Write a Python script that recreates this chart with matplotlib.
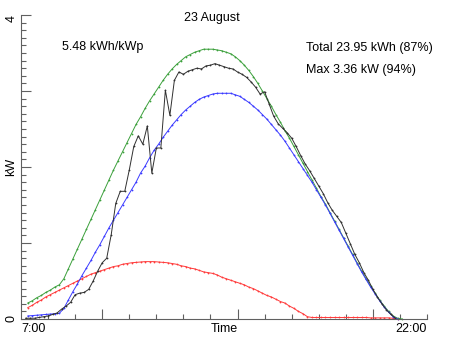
import numpy as np
import matplotlib
matplotlib.use("Agg")
import matplotlib.pyplot as plt
from matplotlib.ticker import FixedLocator, AutoMinorLocator

plt.rcParams['font.family'] = ['Liberation Sans', 'DejaVu Sans']
plt.rcParams['ytick.minor.visible'] = True
plt.rcParams['xtick.minor.visible'] = True

# Measured output, 10-minute samples starting 07:10 (kW)
measured_kw = [
    0.01, 0.01, 0.01, 0.02, 0.03, 0.04, 0.06, 0.08, 0.13, 0.17,
    0.22, 0.32, 0.34, 0.35, 0.39, 0.50, 0.63, 0.74, 0.80, 1.11,
    1.52, 1.68, 1.68, 1.96, 2.27, 2.41, 2.30, 2.54, 1.92, 2.25,
    2.25, 3.01, 2.68, 3.14, 3.25, 3.22, 3.26, 3.28, 3.30, 3.29,
    3.33, 3.34, 3.36, 3.34, 3.32, 3.30, 3.29, 3.25, 3.22, 3.18,
    3.12, 3.05, 2.96, 2.99, 2.83, 2.67, 2.57, 2.51, 2.45, 2.38,
    2.27, 2.15, 2.04, 1.95, 1.85, 1.75, 1.65, 1.53, 1.43, 1.35,
    1.27, 1.13, 0.99, 0.85, 0.74, 0.61, 0.51, 0.39, 0.29, 0.20,
    0.12, 0.06, 0.01,
]

# Clear-sky total, 10-minute samples starting 07:15 (kW)
clear_total_kw = [
    0.21, 0.24, 0.28, 0.31, 0.35, 0.38, 0.42, 0.45, 0.53, 0.66,
    0.79, 0.92, 1.05, 1.18, 1.31, 1.44, 1.57, 1.70, 1.83, 1.96,
    2.08, 2.20, 2.32, 2.44, 2.56, 2.66, 2.77, 2.87, 2.96, 3.05,
    3.14, 3.22, 3.29, 3.35, 3.40, 3.45, 3.48, 3.51, 3.53, 3.55,
    3.55, 3.55, 3.54, 3.53, 3.51, 3.49, 3.45, 3.40, 3.34, 3.27,
    3.19, 3.10, 3.00, 2.90, 2.80, 2.69, 2.59, 2.48, 2.38, 2.27,
    2.16, 2.05, 1.94, 1.83, 1.72, 1.61, 1.51, 1.40, 1.29, 1.18,
    1.07, 0.96, 0.85, 0.74, 0.63, 0.53, 0.43, 0.34, 0.25, 0.17,
    0.10, 0.04, 0.01, 0.00,
]

# Direct component, 10-minute samples starting 07:15 (kW)
direct_kw = [
    0.04, 0.045, 0.05, 0.055, 0.06, 0.065, 0.07, 0.075, 0.14, 0.25,
    0.36, 0.46, 0.57, 0.67, 0.77, 0.88, 0.98, 1.09, 1.20, 1.30,
    1.40, 1.50, 1.60, 1.70, 1.80, 1.92, 2.01, 2.12, 2.22, 2.30,
    2.39, 2.47, 2.55, 2.62, 2.69, 2.75, 2.80, 2.85, 2.89, 2.92,
    2.94, 2.96, 2.97, 2.97, 2.97, 2.97, 2.95, 2.93, 2.89, 2.85,
    2.80, 2.75, 2.69, 2.63, 2.56, 2.49, 2.42, 2.34, 2.25, 2.16,
    2.07, 1.98, 1.89, 1.80, 1.70, 1.60, 1.50, 1.39, 1.28, 1.17,
    1.06, 0.95, 0.84, 0.73, 0.62, 0.52, 0.42, 0.33, 0.24, 0.16,
    0.09, 0.03, 0.00,
]

# Diffuse component, 10-minute samples starting 07:15 (kW)
diffuse_kw = [
    0.15, 0.18, 0.22, 0.25, 0.29, 0.32, 0.35, 0.38, 0.41, 0.44,
    0.47, 0.50, 0.53, 0.56, 0.59, 0.61, 0.63, 0.65, 0.67, 0.69,
    0.70, 0.72, 0.73, 0.74, 0.745, 0.75, 0.755, 0.755, 0.755, 0.75,
    0.745, 0.74, 0.73, 0.72, 0.70, 0.69, 0.67, 0.66, 0.64, 0.62,
    0.61, 0.60, 0.58, 0.55, 0.53, 0.51, 0.49, 0.47, 0.45, 0.42,
    0.40, 0.37, 0.34, 0.31, 0.29, 0.26, 0.23, 0.21, 0.17, 0.14,
    0.10, 0.07, 0.03, 0.02, 0.02, 0.02, 0.02, 0.02, 0.02, 0.02,
    0.02, 0.02, 0.02, 0.02, 0.02, 0.02, 0.015, 0.015, 0.015, 0.015,
    0.015, 0.01, 0.00,
]

title_text = "23 August"
yield_text = "5.48 kWh/kWp"
total_text = "Total 23.95 kWh (87%)"
max_text = "Max 3.36 kW (94%)"

step = 1.0 / 6.0
t_measured = 7.0 + 10.0 / 60.0 + step * np.arange(len(measured_kw))
t_model = 7.25 + step * np.arange(len(clear_total_kw))

W, H = 452, 339
fig = plt.figure(figsize=(W / 100, H / 100), dpi=100)
ax = fig.add_axes([21 / W, 1 - 319 / H, 406 / W, 304 / H])

mk = dict(marker='o', markersize=1.3, markeredgewidth=0, lw=0.7, clip_on=False)
ax.plot(t_model[:len(diffuse_kw)], diffuse_kw, color='#ff3a3a', **mk)
ax.plot(t_model[:len(clear_total_kw)], clear_total_kw, color='#3ca03c', **mk)
ax.plot(t_model[:len(direct_kw)], direct_kw, color='#3a3aff', **mk)
ax.plot(t_measured, measured_kw, color='#303030', **mk)

ax.set_xlim(7, 22)
ax.set_ylim(0, 4)

for side in ('top', 'right'):
    ax.spines[side].set_visible(False)
for side in ('left', 'bottom'):
    ax.spines[side].set_color('#606060')
    ax.spines[side].set_linewidth(0.8)

ax.yaxis.set_major_locator(FixedLocator([0, 1, 2, 3, 4]))
ax.yaxis.set_minor_locator(AutoMinorLocator(10))
ax.xaxis.set_major_locator(FixedLocator([10, 15, 20]))
ax.xaxis.set_minor_locator(FixedLocator([h for h in range(8, 23) if h % 5]))

ax.xaxis.set_tick_params(which='major', direction='in', length=7, width=0.8,
                         color='#606060', labelbottom=False)
ax.xaxis.set_tick_params(which='minor', direction='in', length=3.5, width=0.8,
                         color='#606060')
ax.yaxis.set_tick_params(which='major', direction='in', length=7, width=0.8,
                         color='#606060', labelleft=False)
ax.yaxis.set_tick_params(which='minor', direction='in', length=3.5, width=0.8,
                         color='#606060', left=True)


def px(x, y):
    return x / W, 1 - y / H


fs = 9
fig.text(*px(211.5, 17.5), title_text, ha='center', va='center', fontsize=fs)
fig.text(*px(62, 47), yield_text, ha='left', va='center', fontsize=fs)
fig.text(*px(306, 47.5), total_text, ha='left', va='center', fontsize=fs)
fig.text(*px(306, 69.5), max_text, ha='left', va='center', fontsize=fs)

fig.text(*px(11.5, 19), "4", rotation=90, ha='center', va='center', fontsize=fs)
fig.text(*px(11.5, 318), "0", rotation=90, ha='center', va='center', fontsize=fs)
fig.text(*px(11.5, 166.5), "kW", rotation=90, ha='center', va='center', fontsize=fs)

fig.text(*px(21, 329), "7:00", ha='left', va='center', fontsize=fs)
fig.text(*px(224, 329), "Time", ha='center', va='center', fontsize=fs)
fig.text(*px(427, 329), "22:00", ha='right', va='center', fontsize=fs)

fig.savefig("out.png", dpi=100, facecolor='white')
